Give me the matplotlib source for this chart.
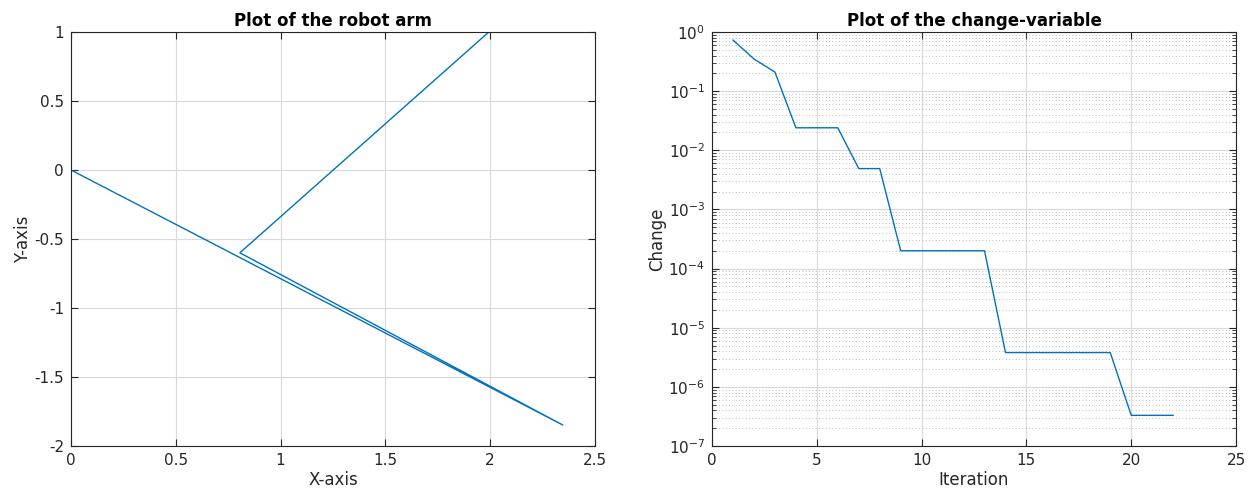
import matplotlib

matplotlib.use("Agg")
import matplotlib.pyplot as plt
from matplotlib.ticker import LogLocator, NullFormatter, FixedLocator

# robot arm joint positions (path drawn in order)
arm_x = [0.0, 2.347, 0.806, 1.994]
arm_y = [0.0, -1.848, -0.60, 1.0]

# change-variable per iteration
iterations = list(range(1, 23))
change = [
    0.73, 0.35, 0.21, 0.024, 0.024, 0.024, 0.0049, 0.0049,
    2.0e-4, 2.0e-4, 2.0e-4, 2.0e-4, 2.0e-4,
    3.8e-6, 3.8e-6, 3.8e-6, 3.8e-6, 3.8e-6, 3.8e-6,
    3.3e-7, 3.3e-7, 3.3e-7,
]

LINE_COLOR = "#0072BD"
GRID_COLOR = "#d9d9d9"
TEXT_COLOR = "#262626"

plt.rcParams["font.family"] = "DejaVu Sans"
plt.rcParams["axes.edgecolor"] = TEXT_COLOR
plt.rcParams["xtick.color"] = TEXT_COLOR
plt.rcParams["ytick.color"] = TEXT_COLOR

fig = plt.figure(figsize=(12.49, 4.96), dpi=100)
ax1 = fig.add_axes([0.0568, 0.1008, 0.4195, 0.8347])
ax2 = fig.add_axes([0.5701, 0.1008, 0.4195, 0.8347])


def matlab_style(ax):
    ax.tick_params(direction="in", top=True, right=True, length=5,
                   labelsize=11, width=0.8, pad=5)
    ax.tick_params(which="minor", direction="in", top=True, right=True,
                   length=3, width=0.6)
    for sp in ax.spines.values():
        sp.set_linewidth(0.8)
    ax.set_axisbelow(True)


# left: robot arm
ax1.plot(arm_x, arm_y, color=LINE_COLOR, lw=1.0)
ax1.set_xlim(0, 2.5)
ax1.set_ylim(-2, 1)
ax1.set_xticks([0, 0.5, 1, 1.5, 2, 2.5])
ax1.set_xticklabels(["0", "0.5", "1", "1.5", "2", "2.5"])
ax1.set_yticks([-2, -1.5, -1, -0.5, 0, 0.5, 1])
ax1.set_yticklabels(["-2", "-1.5", "-1", "-0.5", "0", "0.5", "1"])
ax1.grid(True, color=GRID_COLOR, lw=0.8)
matlab_style(ax1)
ax1.set_title("Plot of the robot arm", fontsize=12, fontweight="bold",
              color="black", pad=4)
ax1.set_xlabel("X-axis", fontsize=12, color=TEXT_COLOR, labelpad=2)
ax1.set_ylabel("Y-axis", fontsize=12, color=TEXT_COLOR, labelpad=2)

# right: change-variable
ax2.plot(iterations, change, color=LINE_COLOR, lw=1.0)
ax2.set_yscale("log")
ax2.set_xlim(0, 25)
ax2.set_ylim(1e-7, 1)
ax2.set_xticks([0, 5, 10, 15, 20, 25])
ax2.yaxis.set_major_locator(FixedLocator([10.0 ** k for k in range(-7, 1)]))
ax2.set_yticklabels([f"$10^{{{k}}}$" for k in range(-7, 1)])
ax2.yaxis.set_minor_locator(LogLocator(base=10, subs=range(2, 10), numticks=20))
ax2.yaxis.set_minor_formatter(NullFormatter())
ax2.grid(True, which="major", color=GRID_COLOR, lw=0.8)
ax2.grid(True, which="minor", axis="y", color="#a8a8a8", lw=0.6,
         linestyle=(0, (1, 3)))
matlab_style(ax2)
ax2.set_title("Plot of the change-variable", fontsize=12, fontweight="bold",
              color="black", pad=4)
ax2.set_xlabel("Iteration", fontsize=12, color=TEXT_COLOR, labelpad=2)
ax2.set_ylabel("Change", fontsize=12, color=TEXT_COLOR, labelpad=2)

fig.savefig("out.png", dpi=100)
